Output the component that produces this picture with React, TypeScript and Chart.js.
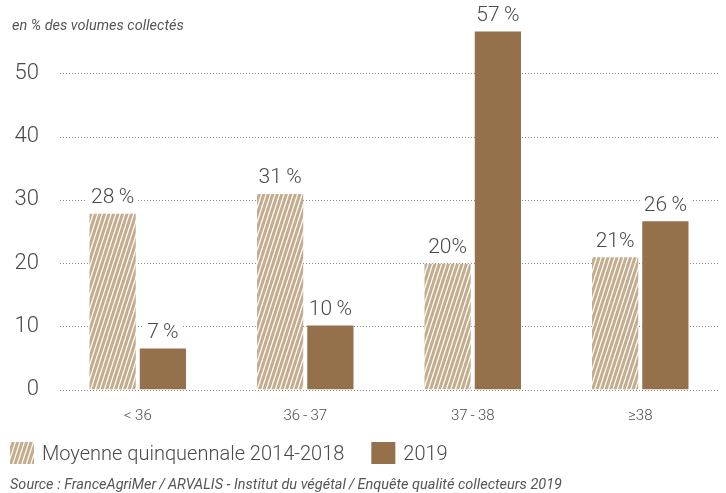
import React, { useEffect, useRef } from "react";
import { Chart, registerables } from "chart.js";

Chart.register(...registerables);

const categories = ["< 36", "36\u2009-\u200937", "37\u2009-\u200938", "≥38"];
const seriesNames = ["Moyenne quinquennale 2014-2018", "2019"];
const avgValues = [27.8, 30.9, 19.9, 20.9];
const values2019 = [6.5, 10.1, 56.6, 26.6];
const avgLabels = ["28\u2009%", "31\u2009%", "20%", "21%"];
const labels2019 = ["7\u2009%", "10\u2009%", "57\u2009%", "26\u2009%"];
const yTicks = [0, 10, 20, 30, 40, 50];
const yAxisTitle = "en % des volumes collectés";
const sourceText =
  "Source : FranceAgriMer\u2009/\u2009ARVALIS - Institut du végétal\u2009/\u2009Enquête qualité collecteurs 2019";

const FONT = "Roboto, 'Open Sans', 'DejaVu Sans', sans-serif";
const TAN = "#c4ad8e";
const BROWN = "#94714a";
const TEXT = "#4a4a4a";

function makeHatch(): CanvasPattern | string {
  const c = document.createElement("canvas");
  const w = 9;
  const h = 28;
  c.width = w;
  c.height = h;
  const ctx = c.getContext("2d");
  if (!ctx) return TAN;
  ctx.fillStyle = TAN;
  ctx.fillRect(0, 0, w, h);
  ctx.strokeStyle = "#ffffff";
  ctx.lineWidth = 1.2;
  for (const off of [-w, -w / 2, 0, w / 2, w]) {
    ctx.beginPath();
    ctx.moveTo(off, h);
    ctx.lineTo(off + w, 0);
    ctx.stroke();
  }
  const p = ctx.createPattern(c, "repeat");
  return p || TAN;
}

export default function App() {
  const ref = useRef<HTMLCanvasElement | null>(null);

  useEffect(() => {
    document.body.style.margin = "0";
    const canvas = ref.current;
    if (!canvas) return;
    const hatch = makeHatch();
    const allLabels = [avgLabels, labels2019];

    const gridPlugin = {
      id: "dotGrid",
      beforeDatasetsDraw(chart: any) {
        const ctx = chart.ctx;
        const y = chart.scales.y;
        ctx.save();
        ctx.strokeStyle = "#8a8a8a";
        ctx.lineWidth = 1;
        ctx.setLineDash([1, 2]);
        for (const v of yTicks) {
          const py = Math.round(y.getPixelForValue(v)) + 0.5;
          ctx.beginPath();
          ctx.moveTo(60, py);
          ctx.lineTo(718, py);
          ctx.stroke();
        }
        ctx.restore();
      },
    };

    const labelPlugin = {
      id: "barLabels",
      afterDatasetsDraw(chart: any) {
        const ctx = chart.ctx;
        ctx.save();
        ctx.font = `300 21px ${FONT}`;
        ctx.textAlign = "center";
        ctx.textBaseline = "middle";
        chart.data.datasets.forEach((ds: any, di: number) => {
          const meta = chart.getDatasetMeta(di);
          meta.data.forEach((el: any, i: number) => {
            const txt = allLabels[di][i];
            const cy = el.y - 16;
            const w = ctx.measureText(txt).width;
            ctx.fillStyle = "#ffffff";
            ctx.fillRect(el.x - w / 2 - 4, cy - 11, w + 8, 22);
            ctx.fillStyle = TEXT;
            ctx.fillText(txt, el.x, cy);
          });
        });
        ctx.restore();
      },
    };

    const decorPlugin = {
      id: "decor",
      afterDraw(chart: any) {
        const ctx = chart.ctx;
        ctx.save();
        ctx.fillStyle = "#555555";
        ctx.font = `italic 14.5px ${FONT}`;
        ctx.textAlign = "left";
        ctx.textBaseline = "middle";
        ctx.fillText(yAxisTitle, 12, 26);
        const fills = [hatch, BROWN];
        let x = 10;
        ctx.font = `300 20px ${FONT}`;
        seriesNames.forEach((name, i) => {
          ctx.fillStyle = fills[i] as any;
          ctx.fillRect(x, 442, 24, 22);
          ctx.fillStyle = TEXT;
          ctx.fillText(name, x + 32, 455);
          x += 32 + ctx.measureText(name).width + 27;
        });
        ctx.fillStyle = "#555555";
        ctx.font = `italic 14.5px ${FONT}`;
        ctx.fillText(sourceText, 10, 485);
        ctx.restore();
      },
    };

    const chart = new Chart(canvas, {
      type: "bar",
      data: {
        labels: categories,
        datasets: [
          {
            label: seriesNames[0],
            data: avgValues,
            backgroundColor: hatch as any,
            categoryPercentage: 0.6,
            barPercentage: 0.92,
          },
          {
            label: seriesNames[1],
            data: values2019,
            backgroundColor: BROWN,
            categoryPercentage: 0.6,
            barPercentage: 0.92,
          },
        ],
      },
      options: {
        responsive: false,
        animation: false,
        layout: { padding: { top: 10, right: 2, bottom: 71.5, left: 0 } },
        plugins: {
          legend: { display: false },
          tooltip: { enabled: false },
        },
        scales: {
          x: {
            grid: { display: false },
            border: { display: false },
            ticks: {
              color: TEXT,
              font: { family: FONT, size: 15, weight: "300" as any },
              padding: 10,
            },
            afterFit: (s: any) => {
              s.height = 32;
              s.paddingLeft = 0;
              s.paddingRight = 0;
            },
          },
          y: {
            min: 0,
            max: 60,
            afterBuildTicks: (s: any) => {
              s.ticks = yTicks.map((v) => ({ value: v }));
            },
            grid: { display: false },
            border: { display: false },
            ticks: {
              color: TEXT,
              font: { family: FONT, size: 22, weight: "300" as any },
              padding: 7,
            },
            afterFit: (s: any) => {
              s.width = 54;
              s.paddingTop = 0;
              s.paddingBottom = 0;
            },
          },
        },
      },
      plugins: [gridPlugin, labelPlugin, decorPlugin],
    });
    return () => chart.destroy();
  }, []);

  return (
    <div style={{ width: 726, height: 493 }}>
      <canvas ref={ref} width={726} height={493} style={{ display: "block" }} />
    </div>
  );
}
